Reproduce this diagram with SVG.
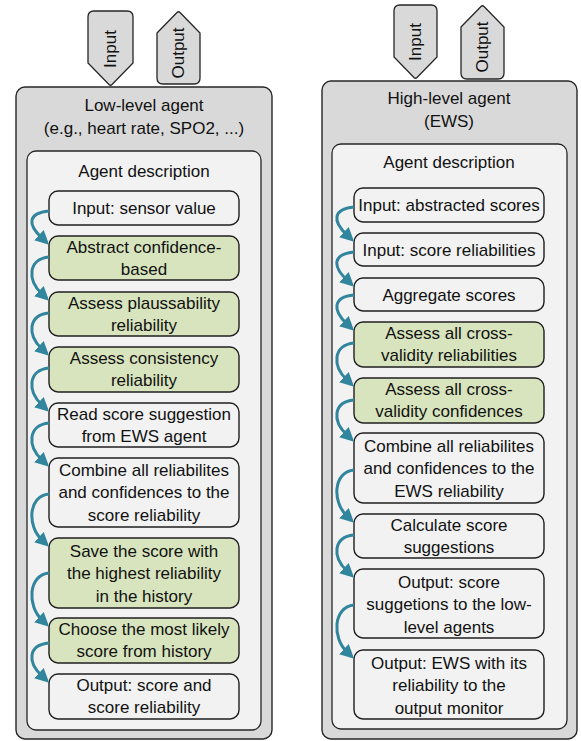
<svg xmlns="http://www.w3.org/2000/svg" width="581" height="741" viewBox="0 0 581 741">
<style>
text{font-family:"Liberation Sans",Arial,sans-serif;font-size:17px;fill:#111;text-anchor:middle}
.outer{fill:#d9d9d9;stroke:#262626;stroke-width:1.4}
.inner{fill:#f2f2f2;stroke:#262626;stroke-width:1.3}
.tag{fill:#d9d9d9;stroke:#262626;stroke-width:1.3}
.n{fill:#f2f2f2;stroke:#1f1f1f;stroke-width:1.4}
.g{fill:#d7e4bd;stroke:#1f1f1f;stroke-width:1.4}
.arr{fill:none;stroke:#31859c;stroke-width:3;marker-end:url(#ah)}
</style>
<defs>
<marker id="ah" markerUnits="userSpaceOnUse" markerWidth="14" markerHeight="14" viewBox="0 0 10 10" refX="3" refY="5" orient="auto">
<path d="M0,0 L10,5 L0,10 z" fill="#31859c"/>
</marker>
</defs>

<!-- Left agent -->
<g id="low-level-agent">
<rect class="outer" x="16" y="87" width="256" height="652" rx="9"/>
<text x="144" y="111">Low-level agent</text>
<text x="144" y="134">(e.g., heart rate, SPO2, ...)</text>
</g>
<g id="low-input-tag">
<path class="tag" d="M94,11 H127 Q133,11 133,17 V63 L112,84.5 Q110.5,86 109,84.5 L88,63 V17 Q88,11 94,11 Z"/>
<text transform="translate(116,49) rotate(-90)">Input</text>
</g>
<g id="low-output-tag">
<path class="tag" d="M157,33 L177,12.5 Q178.5,11 180,12.5 L200,33 V78 Q200,84 194,84 H163 Q157,84 157,78 Z"/>
<text transform="translate(184,53) rotate(-90)">Output</text>
</g>
<g id="low-description">
<rect class="inner" x="27" y="151" width="234" height="579" rx="9"/>
<text x="144" y="177">Agent description</text>
</g>
<g id="l1"><rect class="n" x="49" y="191" width="190" height="34" rx="9"/><text x="144" y="214">Input: sensor value</text></g>
<g id="l2"><rect class="g" x="49" y="236" width="190" height="44" rx="9"/><text x="144" y="253">Abstract confidence-</text><text x="144" y="275">based</text></g>
<g id="l3"><rect class="g" x="49" y="292" width="190" height="44" rx="9"/><text x="144" y="309">Assess plaussability</text><text x="144" y="331">reliability</text></g>
<g id="l4"><rect class="g" x="49" y="347" width="190" height="45" rx="9"/><text x="144" y="364">Assess consistency</text><text x="144" y="386">reliability</text></g>
<g id="l5"><rect class="n" x="49" y="403" width="190" height="44" rx="9"/><text x="144" y="420">Read score suggestion</text><text x="144" y="442">from EWS agent</text></g>
<g id="l6"><rect class="n" x="49" y="458" width="190" height="69" rx="9"/><text x="144" y="476">Combine all reliabilites</text><text x="144" y="498">and confidences to the</text><text x="144" y="521">score reliability</text></g>
<g id="l7"><rect class="g" x="49" y="538" width="190" height="70" rx="9"/><text x="144" y="557">Save the score with</text><text x="144" y="579">the highest reliability</text><text x="144" y="602">in the history</text></g>
<g id="l8"><rect class="g" x="49" y="618" width="190" height="45" rx="9"/><text x="144" y="635">Choose the most likely</text><text x="144" y="657">score from history</text></g>
<g id="l9"><rect class="n" x="49" y="674" width="190" height="45" rx="9"/><text x="144" y="691">Output: score and</text><text x="144" y="713">score reliability</text></g>

<!-- Right agent -->
<g id="high-level-agent">
<rect class="outer" x="322" y="81" width="255" height="658" rx="9"/>
<text x="449" y="104">High-level agent</text>
<text x="449" y="127">(EWS)</text>
</g>
<g id="high-input-tag">
<path class="tag" d="M400,5 H431 Q437,5 437,11 V57 L417,77.5 Q415.5,79 414,77.5 L394,57 V11 Q394,5 400,5 Z"/>
<text transform="translate(421,42) rotate(-90)">Input</text>
</g>
<g id="high-output-tag">
<path class="tag" d="M461,27 L481,6.5 Q482.5,5 484,6.5 L504,27 V73 Q504,79 498,79 H467 Q461,79 461,73 Z"/>
<text transform="translate(488,47) rotate(-90)">Output</text>
</g>
<g id="high-description">
<rect class="inner" x="332" y="144" width="235" height="585" rx="9"/>
<text x="449" y="168">Agent description</text>
</g>
<g id="r1"><rect class="n" x="354" y="188" width="190" height="34" rx="9"/><text x="449" y="211">Input: abstracted scores</text></g>
<g id="r2"><rect class="n" x="354" y="233" width="190" height="33" rx="9"/><text x="449" y="256">Input: score reliabilities</text></g>
<g id="r3"><rect class="n" x="354" y="278" width="190" height="33" rx="9"/><text x="449" y="301">Aggregate scores</text></g>
<g id="r4"><rect class="g" x="354" y="322" width="190" height="45" rx="9"/><text x="449" y="339">Assess all cross-</text><text x="449" y="361">validity reliabilities</text></g>
<g id="r5"><rect class="g" x="354" y="378" width="190" height="45" rx="9"/><text x="449" y="395">Assess all cross-</text><text x="449" y="417">validity confidences</text></g>
<g id="r6"><rect class="n" x="354" y="433" width="190" height="70" rx="9"/><text x="449" y="452">Combine all reliabilites</text><text x="449" y="474">and confidences to the</text><text x="449" y="497">EWS reliability</text></g>
<g id="r7"><rect class="n" x="354" y="514" width="190" height="44" rx="9"/><text x="449" y="531">Calculate score</text><text x="449" y="553">suggestions</text></g>
<g id="r8"><rect class="n" x="354" y="569" width="190" height="69" rx="9"/><text x="449" y="588">Output: score</text><text x="449" y="610">suggetions to the low-</text><text x="449" y="633">level agents</text></g>
<g id="r9"><rect class="n" x="354" y="650" width="190" height="69" rx="9"/><text x="449" y="669">Output: EWS with its</text><text x="449" y="691">reliability to the</text><text x="449" y="714">output monitor</text></g>

<g id="connectors">
<path class="arr" d="M49,211 C28,213 27,224 42,238"/>
<path class="arr" d="M49,257 C28,259 27,280 42,294"/>
<path class="arr" d="M49,313 C28,315 27,335 42,349"/>
<path class="arr" d="M49,368 C28,370 27,391 42,405"/>
<path class="arr" d="M49,423 C28,425 27,446 42,460"/>
<path class="arr" d="M49,494 C28,496 27,526 42,540"/>
<path class="arr" d="M49,573 C28,575 27,606 42,620"/>
<path class="arr" d="M49,643 C28,645 27,662 42,676"/>
<path class="arr" d="M354,207 C333,209 332,221 347,235"/>
<path class="arr" d="M354,252 C333,254 332,266 347,280"/>
<path class="arr" d="M354,295 C333,297 332,310 347,324"/>
<path class="arr" d="M354,343 C333,345 332,366 347,380"/>
<path class="arr" d="M354,400 C333,402 332,421 347,435"/>
<path class="arr" d="M354,470 C333,472 332,502 347,516"/>
<path class="arr" d="M354,535 C333,537 332,557 347,571"/>
<path class="arr" d="M354,605 C333,607 332,638 347,652"/>
</g>
</svg>
